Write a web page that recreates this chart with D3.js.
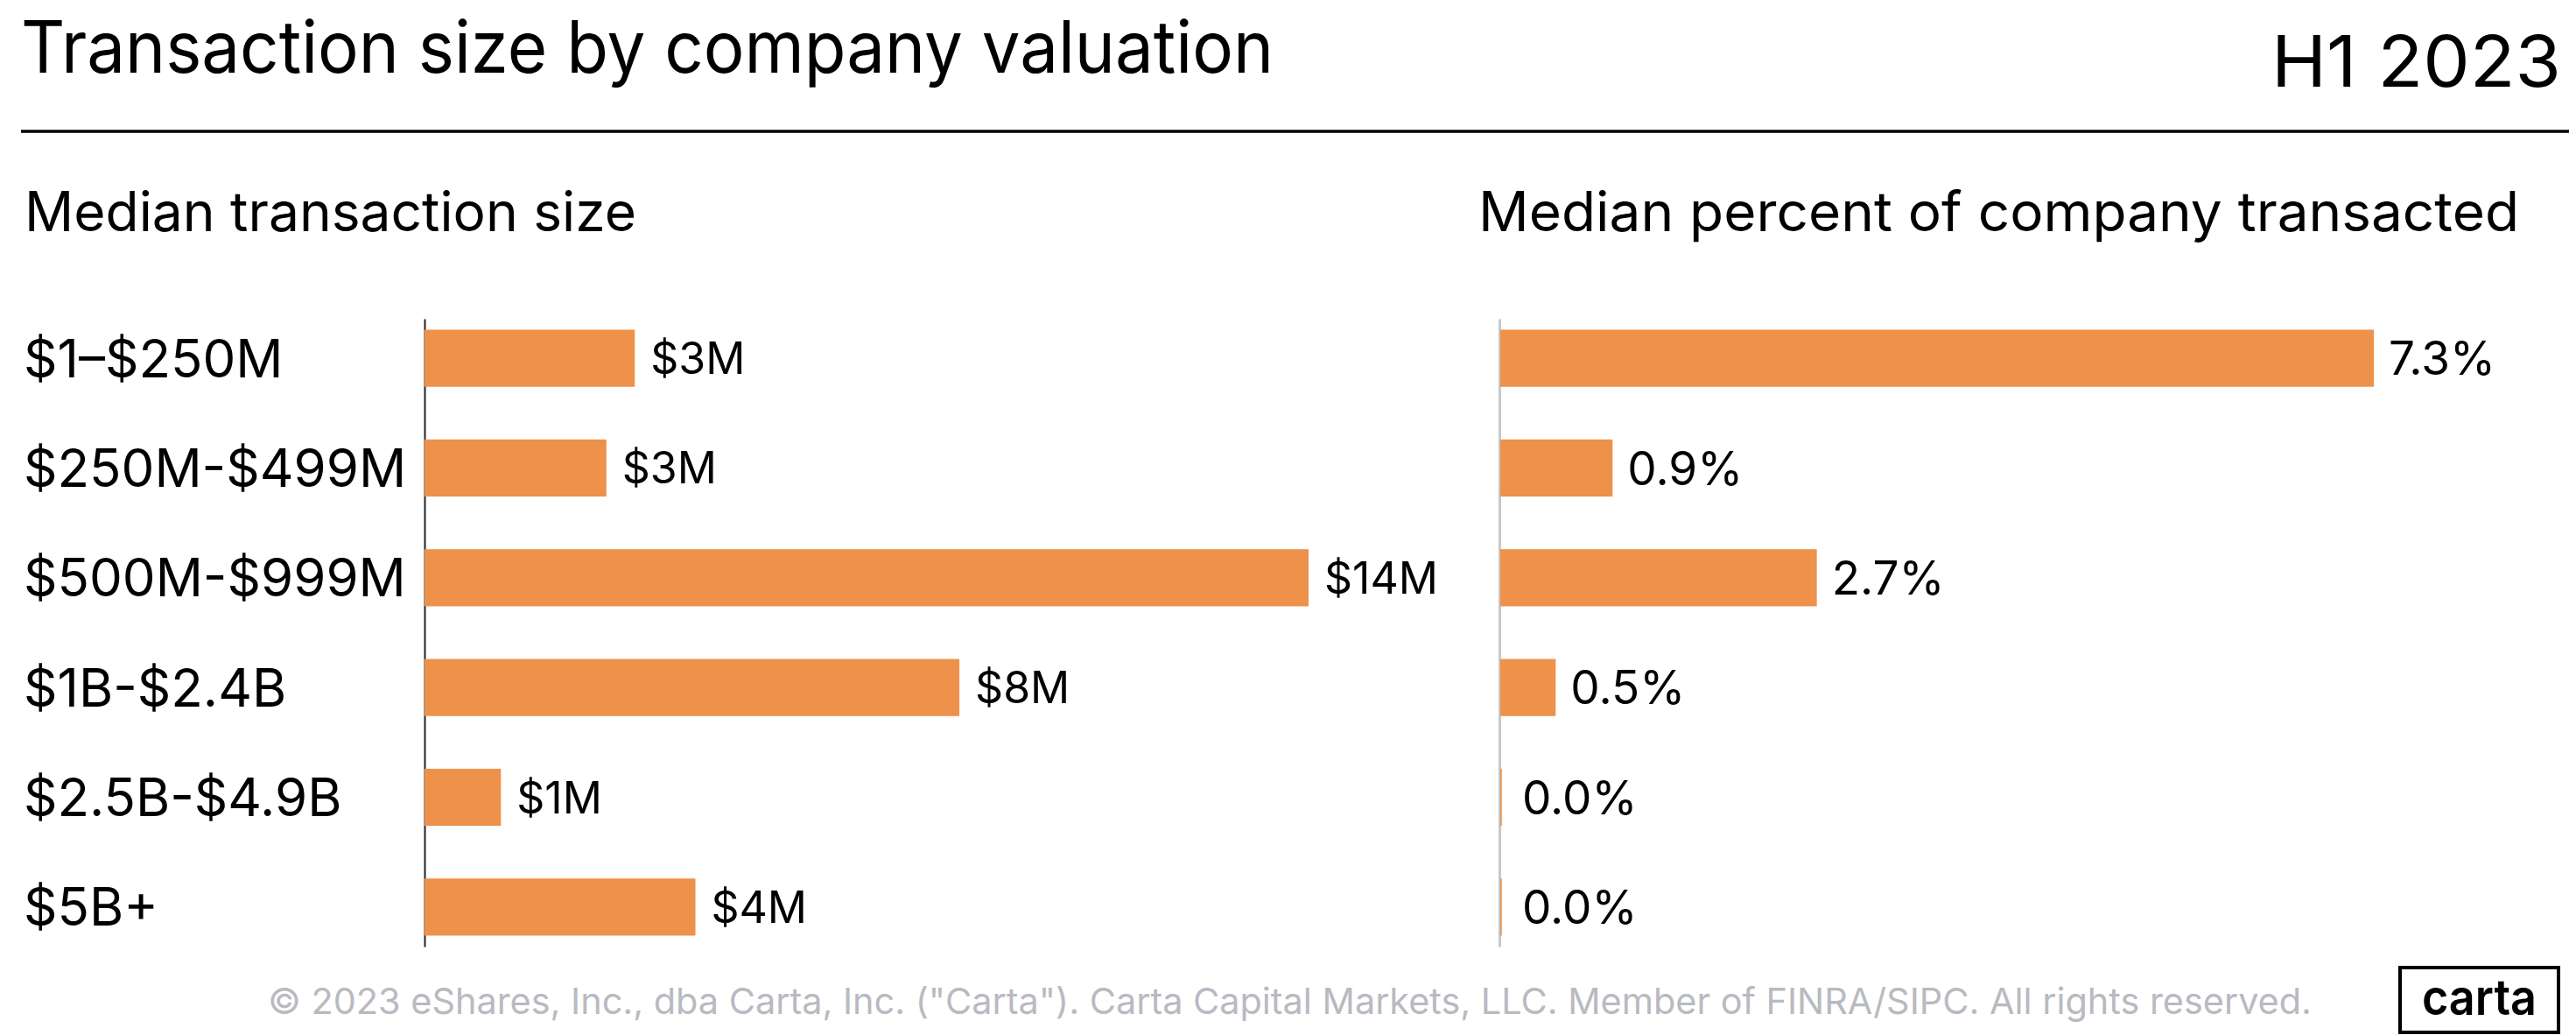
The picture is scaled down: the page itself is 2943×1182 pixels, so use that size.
<!DOCTYPE html>
<html><head><meta charset="utf-8">
<script src="https://cdn.jsdelivr.net/npm/d3@7"></script>
<style>
body{margin:0;background:#fff}
svg{display:block}
text{font-family:Inter,"Noto Sans",sans-serif}
</style>
</head><body>
<svg id="c" width="2943" height="1182"></svg>
<script>
const categories = ["$1–$250M", "$250M-$499M", "$500M-$999M", "$1B-$2.4B", "$2.5B-$4.9B", "$5B+"];
const sizeValues = [3.33, 2.88, 14.0, 8.47, 1.21, 4.29];
const sizeLabels = ["$3M", "$3M", "$14M", "$8M", "$1M", "$4M"];
const pctValues = [7.3, 0.945, 2.65, 0.47, 0.02, 0.02];
const pctLabels = ["7.3%", "0.9%", "2.7%", "0.5%", "0.0%", "0.0%"];

const title = "Transaction size by company valuation";
const period = "H1 2023";
const leftSubtitle = "Median transaction size";
const rightSubtitle = "Median percent of company transacted";
const footer = "© 2023 eShares, Inc., dba Carta, Inc. (\"Carta\"). Carta Capital Markets, LLC. Member of FINRA/SIPC. All rights reserved.";

const svg = d3.select("#c");
const BAR = "#ED914B";

function fit(sel, w) {
  sel.attr("textLength", w).attr("lengthAdjust", "spacingAndGlyphs");
  return sel;
}

// header
fit(svg.append("text").attr("x", 24).attr("y", 83).attr("font-size", 82).attr("fill", "#000").text(title), 1431);
fit(svg.append("text").attr("x", 2595).attr("y", 99).attr("font-size", 81).attr("fill", "#000").text(period), 331);
svg.append("line").attr("x1", 24).attr("x2", 2935).attr("y1", 150).attr("y2", 150)
  .attr("stroke", "#000").attr("stroke-width", 3.5);
fit(svg.append("text").attr("x", 28).attr("y", 264).attr("font-size", 63).attr("fill", "#000").text(leftSubtitle), 699);
fit(svg.append("text").attr("x", 1689).attr("y", 264).attr("font-size", 63).attr("fill", "#000").text(rightSubtitle), 1189);

// scales
const y = d3.scaleBand().domain(categories).range([364, 1081]).paddingInner(0.48).paddingOuter(0.1);
const xL = d3.scaleLinear().domain([0, 14.0]).range([485, 1495]);
const xR = d3.scaleLinear().domain([0, 7.3]).range([1713, 2712]);

// left axis
const gL = svg.append("g").attr("transform", `translate(${xL(0)},0)`)
  .call(d3.axisLeft(y).tickSize(0).tickFormat(""));
gL.select(".domain").attr("stroke", "#222").attr("stroke-width", 2);

// category labels
svg.append("g").selectAll("text").data(categories).join("text")
  .attr("x", 27).attr("y", d => y(d) + y.bandwidth() / 2)
  .attr("dy", "0.36em").attr("font-size", 60).attr("fill", "#000")
  .text(d => d);

// left bars
svg.append("g").selectAll("rect").data(sizeValues).join("rect")
  .attr("x", xL(0)).attr("y", (d, i) => y(categories[i]))
  .attr("width", d => xL(d) - xL(0)).attr("height", y.bandwidth())
  .attr("fill", BAR);
svg.append("g").selectAll("text").data(sizeValues).join("text")
  .attr("x", d => xL(d) + 18).attr("y", (d, i) => y(categories[i]) + y.bandwidth() / 2)
  .attr("dy", "0.36em").attr("font-size", 50).attr("fill", "#000")
  .text((d, i) => sizeLabels[i]);

// right axis
const gR = svg.append("g").attr("transform", `translate(${xR(0)},0)`)
  .call(d3.axisLeft(y).tickSize(0).tickFormat(""));
gR.select(".domain").attr("stroke", "#c8c8c8").attr("stroke-width", 3);

svg.append("g").selectAll("rect").data(pctValues).join("rect")
  .attr("x", xR(0) + 1).attr("y", (d, i) => y(categories[i]))
  .attr("width", d => Math.max(0, xR(d) - xR(0) - 1)).attr("height", y.bandwidth())
  .attr("fill", BAR);
svg.append("g").selectAll("text").data(pctValues).join("text")
  .attr("x", d => Math.max(xR(d) + 17, xR(0) + 26)).attr("y", (d, i) => y(categories[i]) + y.bandwidth() / 2)
  .attr("dy", "0.36em").attr("font-size", 53).attr("fill", "#000")
  .text((d, i) => pctLabels[i]);

// footer
fit(svg.append("text").attr("x", 306).attr("y", 1158).attr("font-size", 41).attr("fill", "#B9BAC1").text(footer), 2335);

// logo
svg.append("rect").attr("x", 2742).attr("y", 1105).attr("width", 181).attr("height", 74)
  .attr("fill", "none").attr("stroke", "#000").attr("stroke-width", 4);
fit(svg.append("text").attr("x", 2767).attr("y", 1159).attr("font-size", 56).attr("font-weight", 600)
  .attr("fill", "#000").text("carta"), 131);
</script>
</body></html>
